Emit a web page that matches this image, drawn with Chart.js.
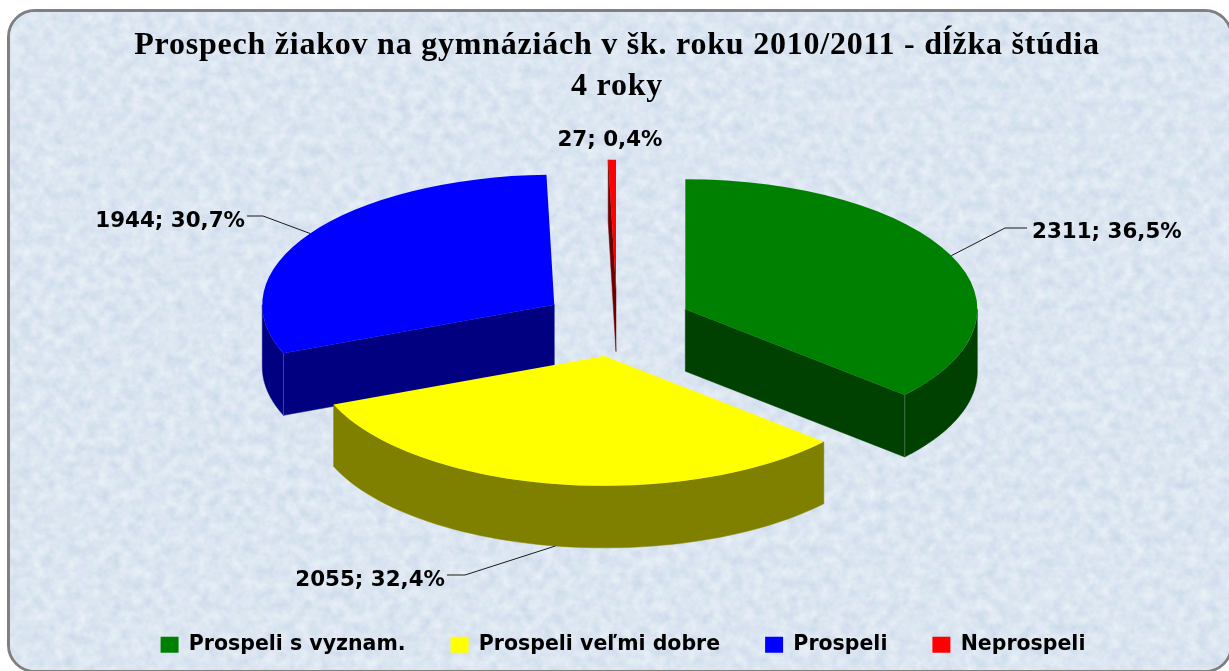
<!DOCTYPE html>
<html lang="sk">
<head>
<meta charset="utf-8">
<title>Prospech žiakov</title>
<script src="https://cdn.jsdelivr.net/npm/chart.js@4"></script>
<style>
html,body{margin:0;padding:0;background:#fff;width:1229px;height:671px;overflow:hidden}
#frame{position:absolute;left:7px;top:9px;width:1220px;height:658px;border:3px solid #808080;border-radius:28px;overflow:hidden;background:#dbe8f6}
#frame svg{position:absolute;left:0;top:0}
canvas{position:absolute;left:0;top:0}
</style>
</head>
<body>
<div id="frame">
<svg width="1220" height="658" xmlns="http://www.w3.org/2000/svg">
<filter id="marble" x="0" y="0" width="100%" height="100%" color-interpolation-filters="sRGB">
<feTurbulence type="fractalNoise" baseFrequency="0.09" numOctaves="4" seed="7"/>
<feColorMatrix type="matrix" values="0.15 0.03 0 0 0.77  0.11 0 0.03 0 0.83  0.06 0.03 0 0 0.90  0 0 0 0 1"/>
</filter>
<rect width="1220" height="658" filter="url(#marble)"/>
</svg>
</div>
<canvas id="c" width="1229" height="671"></canvas>
<script>
const titleLines = ['Prospech žiakov na gymnáziách v šk. roku 2010/2011 - dĺžka štúdia', '4 roky'];
const categories = ['Prospeli s vyznam.', 'Prospeli veľmi dobre', 'Prospeli', 'Neprospeli'];
const values = [2311, 2055, 1944, 27];
const topColors = ['#008000', '#FFFF00', '#0000FF', '#FF0000'];
const wallColors = ['#004000', '#808000', '#000080', '#700000'];
const seamColors = ['#3f6f3f', '#808000', '#4040a8', '#700000'];
const wallOrder = [2, 3, 0, 1];

const scene = {cx: 617, cy: 323, squash: 0.445, depth: 62, explode: 75, legendShift: 6, titleSpacing: '0.77px'};
const labelLayout = [
  {x: 1032, y: 232, align: 'left',  leader: [[1005, 228], [1027, 228]], wall: false},
  {x: 445,  y: 580, align: 'right', leader: [[465, 575], [447, 575]],  wall: true},
  {x: 245,  y: 221, align: 'right', leader: [[263, 216], [247, 216]],  wall: false},
  {x: 610,  y: 140, align: 'center', leader: null, wall: false}
];
const total = values.reduce((a, b) => a + b, 0);
const labelText = i => values[i] + '; ' + (values[i] / total * 100).toFixed(1).replace('.', ',') + '%';

function arcGeom(el) {
  const p = el.getProps(['startAngle', 'endAngle', 'outerRadius']);
  const mid = (p.startAngle + p.endAngle) / 2;
  const vx = scene.cx + Math.cos(mid) * scene.explode;
  const vy = scene.cy + Math.sin(mid) * scene.explode * scene.squash;
  const r = p.outerRadius;
  return {s: p.startAngle, e: p.endAngle, mid, vx, vy, r,
    pt: a => [vx + Math.cos(a) * r, vy + Math.sin(a) * r * scene.squash]};
}

function drawFace(ctx, g, a, color) {
  const p = g.pt(a), d = scene.depth;
  ctx.fillStyle = color;
  ctx.strokeStyle = color;
  ctx.lineWidth = 0.5;
  ctx.beginPath();
  ctx.moveTo(g.vx, g.vy);
  ctx.lineTo(p[0], p[1]);
  ctx.lineTo(p[0], p[1] + d);
  ctx.lineTo(g.vx, g.vy + d);
  ctx.closePath();
  ctx.fill();
  ctx.stroke();
}

function drawOuterWall(ctx, g, color) {
  const a0 = Math.max(g.s, 0), a1 = Math.min(g.e, Math.PI);
  if (a1 <= a0) return;
  const steps = 60;
  ctx.fillStyle = color;
  ctx.strokeStyle = color;
  ctx.lineWidth = 0.5;
  ctx.beginPath();
  for (let k = 0; k <= steps; k++) {
    const q = g.pt(a0 + (a1 - a0) * k / steps);
    k ? ctx.lineTo(q[0], q[1]) : ctx.moveTo(q[0], q[1]);
  }
  for (let k = steps; k >= 0; k--) {
    const q = g.pt(a0 + (a1 - a0) * k / steps);
    ctx.lineTo(q[0], q[1] + scene.depth);
  }
  ctx.closePath();
  ctx.fill();
  ctx.stroke();
}

const pie3d = {
  id: 'pie3d',
  afterLayout(chart) {
    const ctx = chart.ctx;
    const tb = chart.titleBlock, lg = chart.legend;
    if (!tb.__wrapped) {
      const d = tb.draw;
      tb.draw = function () { ctx.letterSpacing = scene.titleSpacing; d.call(this); ctx.letterSpacing = '0px'; };
      tb.__wrapped = true;
    }
    if (!lg.__wrapped) {
      const d = lg.draw;
      lg.draw = function () { ctx.save(); ctx.translate(scene.legendShift, 2); d.call(this); ctx.restore(); };
      lg.__wrapped = true;
    }
  },
  beforeDatasetsDraw(chart) {
    const ctx = chart.ctx;
    const arcs = chart.getDatasetMeta(0).data;
    wallOrder.forEach(i => {
      const g = arcGeom(arcs[i]);
      if (Math.cos(g.s) < -1e-6) drawFace(ctx, g, g.s, wallColors[i]);
      if (Math.cos(g.e) > 1e-6) drawFace(ctx, g, g.e, wallColors[i]);
      drawOuterWall(ctx, g, wallColors[i]);
      if (i === 0 || i === 2) {
        const seamAngle = Math.cos(g.s) < -1e-6 ? g.s : g.e;
        const p = g.pt(seamAngle);
        ctx.strokeStyle = seamColors[i];
        ctx.lineWidth = 1;
        ctx.beginPath();
        ctx.moveTo(p[0], p[1]);
        ctx.lineTo(p[0], p[1] + scene.depth);
        ctx.stroke();
      }
    });
    arcs.forEach(a => {
      const g = arcGeom(a);
      ctx.save();
      ctx.translate(g.vx, g.vy);
      ctx.scale(1, scene.squash);
      ctx.translate(-a.x, -a.y);
      a.draw(ctx);
      ctx.restore();
    });
    ctx.save();
    ctx.font = 'bold 21.4px "DejaVu Sans"';
    ctx.textBaseline = 'middle';
    ctx.fillStyle = '#000';
    labelLayout.forEach((l, i) => {
      if (l.leader) {
        const g = arcGeom(arcs[i]);
        const p = g.pt(g.mid);
        ctx.strokeStyle = '#1a1a1a';
        ctx.lineWidth = 1;
        ctx.beginPath();
        ctx.moveTo(p[0], p[1] + (l.wall ? scene.depth : 0));
        l.leader.forEach(q => ctx.lineTo(q[0], q[1]));
        ctx.stroke();
      }
      ctx.textAlign = l.align;
      ctx.fillText(labelText(i), l.x, l.y);
    });
    ctx.restore();
    return false;
  }
};

Chart.defaults.color = '#000';
new Chart(document.getElementById('c'), {
  type: 'pie',
  plugins: [pie3d],
  data: {
    labels: categories,
    datasets: [{
      data: values,
      backgroundColor: topColors,
      borderWidth: 0,
      radius: 292,
      clip: false
    }]
  },
  options: {
    responsive: false,
    animation: false,
    events: [],
    layout: {padding: {left: 5, right: 0, top: 25, bottom: 8}},
    plugins: {
      tooltip: {enabled: false},
      title: {
        display: true,
        text: titleLines,
        color: '#000',
        font: {family: '"Liberation Serif"', weight: 'bold', size: 32, lineHeight: 1.28},
        padding: {top: 0, bottom: 10}
      },
      legend: {
        position: 'bottom',
        labels: {
          boxWidth: 18,
          boxHeight: 16,
          padding: 45,
          color: '#000',
          font: {family: '"DejaVu Sans"', weight: 'bold', size: 20.5}
        }
      }
    }
  }
});
</script>
</body>
</html>
